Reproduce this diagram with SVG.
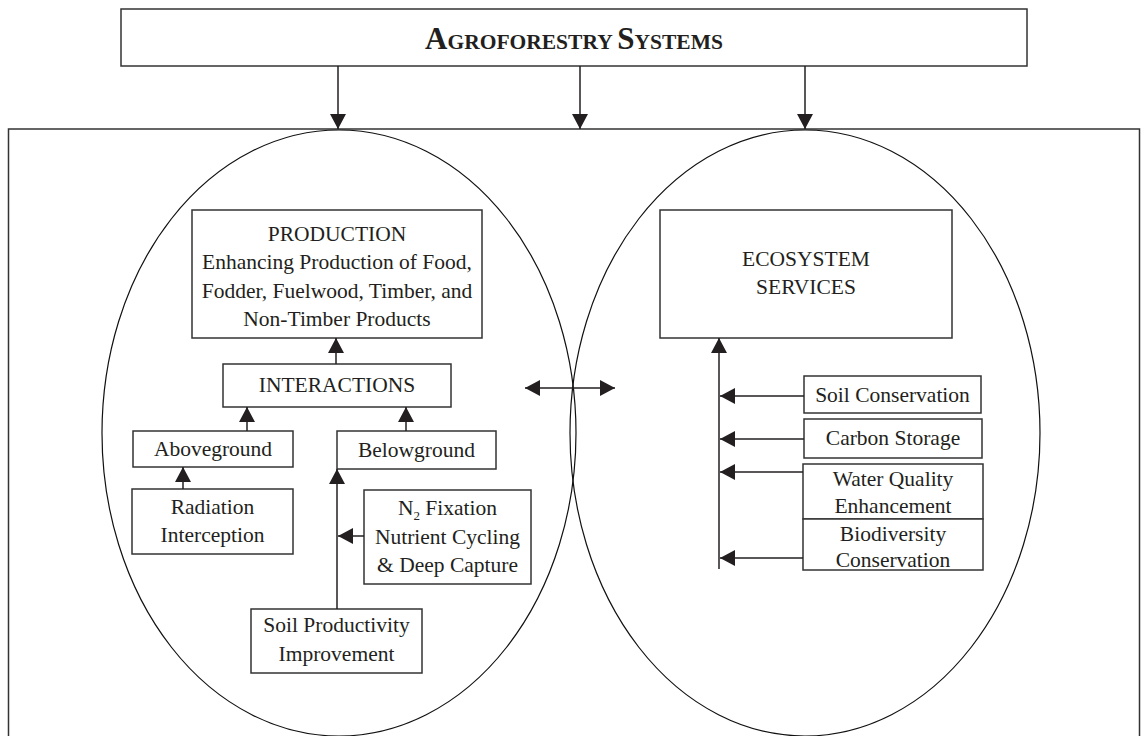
<svg xmlns="http://www.w3.org/2000/svg" width="1142" height="736" viewBox="0 0 1142 736">
<defs>
<style>
.box{fill:#fff;stroke:#333;stroke-width:1.5}
.frame{fill:none;stroke:#333;stroke-width:1.5}
.ell{fill:none;stroke:#111;stroke-width:1.2}
.t{font-family:"Liberation Serif","Times New Roman",serif;font-size:21.5px;fill:#231f20;text-anchor:middle}
.title{font-family:"Liberation Serif","Times New Roman",serif;font-weight:bold;fill:#231f20;text-anchor:middle}
.c{stroke:#231f20;stroke-width:1.5;fill:none}
.a{marker-end:url(#ah)}
</style>
<marker id="ah" markerUnits="userSpaceOnUse" markerWidth="15" markerHeight="16" viewBox="0 0 15 16" refX="15" refY="8" orient="auto-start-reverse">
<path d="M0,0 L15,8 L0,16 z" fill="#231f20"/>
</marker>
</defs>
<rect x="0" y="0" width="1142" height="736" fill="#fff"/>

<g id="agroforestry-systems">
<rect class="box" x="121" y="9" width="906" height="57"/>
<text class="title" x="574" y="49"><tspan font-size="31">A</tspan><tspan font-size="21.5">GROFORESTRY </tspan><tspan font-size="31">S</tspan><tspan font-size="21.5">YSTEMS</tspan></text>
</g>

<g id="outer-frame">
<rect class="frame" x="8.5" y="129" width="1131" height="620"/>
</g>

<g id="left-ellipse">
<ellipse class="ell" cx="339" cy="433" rx="237" ry="303"/>
</g>
<g id="right-ellipse">
<ellipse class="ell" cx="805" cy="433" rx="235" ry="303"/>
</g>

<g id="production">
<rect class="box" x="192" y="210" width="290" height="128"/>
<text class="t" x="337" y="241">PRODUCTION</text>
<text class="t" x="337" y="269">Enhancing Production of Food,</text>
<text class="t" x="337" y="298">Fodder, Fuelwood, Timber, and</text>
<text class="t" x="337" y="326">Non-Timber Products</text>
</g>

<g id="interactions">
<rect class="box" x="223" y="364" width="228" height="43"/>
<text class="t" x="337" y="392">INTERACTIONS</text>
</g>

<g id="aboveground">
<rect class="box" x="133" y="431" width="160" height="36"/>
<text class="t" x="213" y="456">Aboveground</text>
</g>

<g id="belowground">
<rect class="box" x="337" y="431" width="159" height="38"/>
<text class="t" x="416.5" y="457">Belowground</text>
</g>

<g id="radiation-interception">
<rect class="box" x="132" y="489" width="161" height="65"/>
<text class="t" x="212.5" y="514">Radiation</text>
<text class="t" x="212.5" y="542">Interception</text>
</g>

<g id="n2-fixation">
<rect class="box" x="364" y="490" width="167" height="94"/>
<text class="t" x="447.5" y="515">N<tspan font-size="13" dy="5">2</tspan><tspan dy="-5"> Fixation</tspan></text>
<text class="t" x="447.5" y="544">Nutrient Cycling</text>
<text class="t" x="447.5" y="572">&amp; Deep Capture</text>
</g>

<g id="soil-productivity">
<rect class="box" x="251" y="609" width="171" height="64"/>
<text class="t" x="336.5" y="632">Soil Productivity</text>
<text class="t" x="336.5" y="661">Improvement</text>
</g>

<g id="ecosystem-services">
<rect class="box" x="660" y="210" width="292" height="128"/>
<text class="t" x="806" y="266">ECOSYSTEM</text>
<text class="t" x="806" y="294">SERVICES</text>
</g>

<g id="soil-conservation">
<rect class="box" x="804" y="376" width="177" height="37"/>
<text class="t" x="892.5" y="402">Soil Conservation</text>
</g>

<g id="carbon-storage">
<rect class="box" x="804" y="419" width="178" height="39"/>
<text class="t" x="893" y="445">Carbon Storage</text>
</g>

<g id="water-quality">
<rect class="box" x="803" y="464" width="180" height="55"/>
<text class="t" x="893" y="486">Water Quality</text>
<text class="t" x="893" y="513">Enhancement</text>
</g>

<g id="biodiversity-conservation">
<rect class="box" x="803" y="519" width="180" height="51"/>
<text class="t" x="893" y="541">Biodiversity</text>
<text class="t" x="893" y="567">Conservation</text>
</g>

<g id="connectors">
<line class="c a" x1="338" y1="66" x2="338" y2="129"/>
<line class="c a" x1="580" y1="66" x2="580" y2="129"/>
<line class="c a" x1="805" y1="66" x2="805" y2="129"/>
<line class="c a" x1="336" y1="364" x2="336" y2="338"/>
<line class="c a" x1="247" y1="431" x2="247" y2="407"/>
<line class="c a" x1="406" y1="431" x2="406" y2="407"/>
<line class="c a" x1="183" y1="489" x2="183" y2="467"/>
<line class="c a" x1="337" y1="609" x2="337" y2="469"/>
<line class="c a" x1="364" y1="536" x2="338" y2="536"/>
<line class="c a" x1="525" y1="388" x2="615" y2="388" style="marker-start:url(#ah)"/>
<line class="c a" x1="719" y1="569" x2="719" y2="338"/>
<line class="c a" x1="804" y1="396" x2="720" y2="396"/>
<line class="c a" x1="804" y1="439" x2="720" y2="439"/>
<line class="c a" x1="803" y1="472" x2="720" y2="472"/>
<line class="c a" x1="803" y1="558" x2="720" y2="558"/>
</g>
</svg>
